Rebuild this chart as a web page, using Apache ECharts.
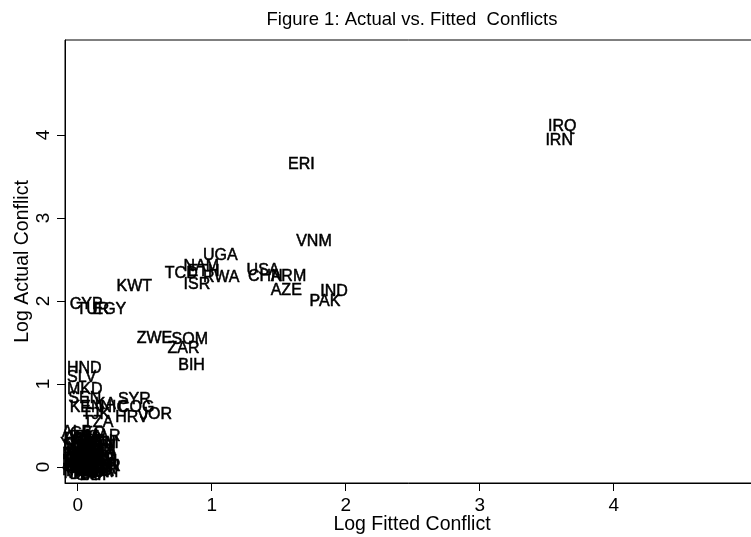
<!DOCTYPE html>
<html>
<head>
<meta charset="utf-8">
<script src="https://cdn.jsdelivr.net/npm/echarts@6/dist/echarts.min.js"></script>
<style>
html,body{margin:0;padding:0;background:#fff;}
#chart{width:751px;height:537px;}
</style>
</head>
<body>
<div id="chart"></div>
<script>
// Country codes with log fitted (x) and log actual (y) conflict
const countries = ["IRQ","IRN","ERI","VNM","UGA","NAM","TCD","ETH","RWA","ISR","USA","CHN","ARM","AZE","IND","PAK","KWT","CYP","TUR","EGY","ZWE","SOM","ZAR","BIH","HND","SLV","MKD","SEN","SYR","KEN","LKA","NIC","COG","TJK","TZA","HRV","JOR",
  "ALB","GEO","MAR","LBN","PER","TIM","MEX","NPL","COL","BGD","PHL","GHA","LBY","DZA","MLI","IRL","GBR","ESP","FRA","NGA","THA","RUS","SDN","MDA","YUG","GTM","IDN","HTI","LAO","CMR","MMR","UZB","NER",
  "ARG","BRA","CHL","ECU","PAN","SLE","LBR","GIN","TGO","BEN","MOZ","AGO","ZMB","KHM","PNG","FJI","OMN","YEM","SAU","JPN","KOR","PRK","GRC","ROM","MYS","DJI","CAF","BDI","GNB","TTO"];
const fitted = [3.51,3.49,1.57,1.63,0.935,0.79,0.65,0.82,0.935,0.79,1.26,1.27,1.44,1.44,1.81,1.73,0.29,-0.06,-0.01,0.11,0.44,0.70,0.67,0.75,-0.08,-0.08,-0.08,-0.07,0.30,-0.06,0.06,0.17,0.30,0.03,0.04,0.28,0.465,
  -0.117,-0.057,0.054,-0.10,-0.04,0.077,-0.11,-0.07,-0.013,-0.117,-0.057,0.02,-0.117,-0.057,0.0,-0.10,-0.057,0.0,-0.087,-0.028,0.03,-0.117,0.06,0.017,-0.13,0.04,-0.09,-0.02,0.05,-0.075,0.01,-0.05,0.07,
  -0.10,-0.06,-0.03,0.01,0.045,-0.11,-0.08,-0.045,0.0,0.035,-0.095,-0.065,-0.02,0.02,-0.10,-0.07,-0.035,0.005,0.05,-0.115,-0.085,-0.05,-0.015,0.025,-0.105,-0.06,-0.02,0.015,-0.09,-0.04];
const actual = [4.10,3.93,3.64,2.72,2.55,2.42,2.33,2.35,2.28,2.20,2.37,2.29,2.29,2.13,2.11,1.99,2.17,1.96,1.90,1.90,1.55,1.53,1.43,1.22,1.19,1.08,0.93,0.83,0.81,0.72,0.75,0.72,0.72,0.63,0.54,0.59,0.63,
  0.41,0.40,0.37,0.33,0.30,0.25,0.24,0.20,0.18,0.145,0.12,0.10,0.06,0.05,0.02,0.0,-0.02,-0.04,-0.06,-0.07,-0.05,-0.04,0.0,0.17,0.27,0.28,0.16,0.08,0.13,0.03,-0.03,0.22,0.01,
  0.35,0.35,0.32,0.31,0.28,0.26,0.22,0.22,0.20,0.19,0.14,0.12,0.11,0.09,0.07,0.04,0.05,0.03,0.06,0.02,-0.01,-0.02,-0.06,-0.07,-0.08,-0.09,-0.10,-0.10,0.09,0.15];
const xTicks = [0,1,2,3,4];
const yTicks = [0,1,2,3,4];

const points = countries.map((c, i) => [fitted[i], actual[i], c]);
const FONT = "'Liberation Sans', Arial, Helvetica, sans-serif";

const chart = echarts.init(document.getElementById('chart'), null, {renderer: 'canvas'});
chart.setOption({
  animation: false,
  backgroundColor: '#fff',
  title: {
    text: 'Figure 1: Actual vs. Fitted  Conflicts',
    left: 407, top: 5, textAlign: 'center',
    textStyle: {fontFamily: FONT, fontSize: 18.5, fontWeight: 'normal', color: '#000'}
  },
  grid: {left: 65, top: 40, right: -8, bottom: 54, show: true, borderColor: '#000', borderWidth: 1, backgroundColor: '#fff',
         containLabel: false, outerBoundsMode: 'none'},
  xAxis: {
    type: 'value', min: -0.095, max: 5.084,
    name: 'Log Fitted Conflict', nameLocation: 'middle', nameGap: 32, nameMoveOverlap: false,
    nameTextStyle: {fontFamily: FONT, fontSize: 19.5, color: '#000'},
    axisLine: {show: true, onZero: false, lineStyle: {color: '#000', width: 1}},
    axisTick: {show: true, length: 8, lineStyle: {color: '#000'}, customValues: xTicks},
    axisLabel: {fontFamily: FONT, fontSize: 19, color: '#000', margin: 13, customValues: xTicks},
    splitLine: {show: false}
  },
  yAxis: {
    type: 'value', min: -0.193, max: 5.145,
    name: 'Log Actual Conflict', nameLocation: 'middle', nameGap: 32, nameRotate: 90, nameMoveOverlap: false,
    nameTextStyle: {fontFamily: FONT, fontSize: 19.5, color: '#000'},
    axisLine: {show: true, onZero: false, lineStyle: {color: '#000', width: 1}},
    axisTick: {show: true, length: 8, lineStyle: {color: '#000'}, customValues: yTicks},
    axisLabel: {fontFamily: FONT, fontSize: 19, color: '#000', margin: 12, rotate: 90, customValues: yTicks},
    splitLine: {show: false}
  },
  series: [{
    type: 'scatter',
    data: points,
    symbol: 'circle',
    symbolSize: 0,
    clip: false,
    silent: true,
    itemStyle: {color: '#000', opacity: 1},
    label: {
      show: true, position: 'right', distance: 0,
      formatter: p => p.data[2],
      fontFamily: FONT, fontSize: 16, color: '#000', opacity: 1,
      textBorderColor: '#000', textBorderWidth: 0.5
    },
    emphasis: {disabled: true}
  }]
});
</script>
</body>
</html>
